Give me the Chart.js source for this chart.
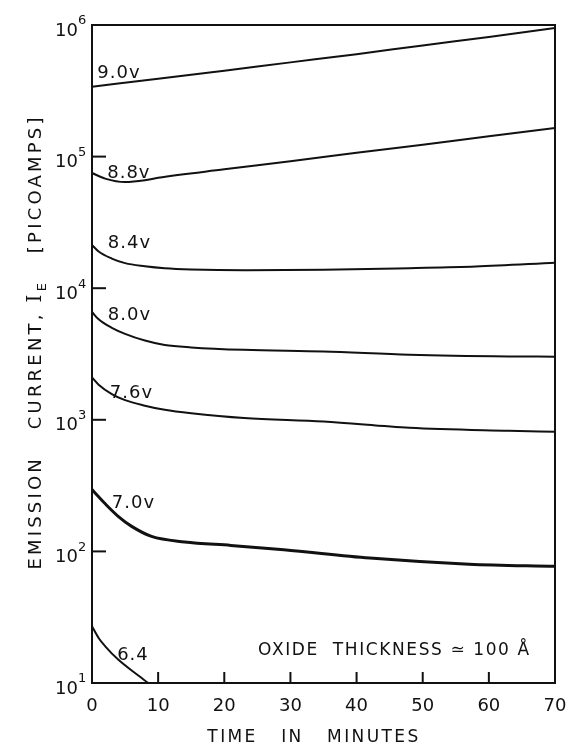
<!DOCTYPE html>
<html>
<head>
<meta charset="utf-8">
<script src="https://cdn.jsdelivr.net/npm/chart.js@4.4.1/dist/chart.umd.min.js"></script>
<style>
  html, body { margin: 0; padding: 0; background: #fff; }
  #wrap { width: 573px; height: 744px; }
</style>
</head>
<body>
<div id="wrap"><canvas id="emission"></canvas></div>
<script>
// time in minutes and emission current (picoamps) for each applied voltage
var t90 = [0, 10, 20, 30, 40, 50, 60, 70];
var i90 = [3.4e5, 3.9e5, 4.5e5, 5.2e5, 6.0e5, 7.0e5, 8.1e5, 9.5e5];

var t88 = [0, 2, 5, 8, 10, 20, 30, 40, 50, 60, 70];
var i88 = [7.5e4, 6.8e4, 6.4e4, 6.6e4, 6.9e4, 8.0e4, 9.2e4, 1.07e5, 1.23e5, 1.43e5, 1.65e5];

var t84 = [0, 1, 3, 5, 8, 11, 15, 23, 35, 48, 58, 70];
var i84 = [2.13e4, 1.9e4, 1.68e4, 1.55e4, 1.47e4, 1.42e4, 1.39e4, 1.37e4, 1.38e4, 1.42e4, 1.46e4, 1.56e4];

var t80 = [0, 1, 3, 5, 8, 11, 15, 23, 35, 48, 63, 70];
var i80 = [6.6e3, 5.8e3, 5.0e3, 4.5e3, 4.0e3, 3.7e3, 3.55e3, 3.4e3, 3.3e3, 3.12e3, 3.03e3, 3.02e3];

var t76 = [0, 1, 3, 5, 8, 11, 15, 23, 35, 48, 63, 70];
var i76 = [2.1e3, 1.85e3, 1.57e3, 1.41e3, 1.28e3, 1.19e3, 1.12e3, 1.03e3, 970, 870, 825, 810];

var t70 = [0, 1, 2, 4, 6, 9, 14, 21, 29, 42, 57, 70];
var i70 = [295, 260, 230, 184, 155, 130, 118, 111, 103, 89, 80, 77];

var t64 = [0, 1, 2, 4, 6.5, 8.5];
var i64 = [27, 22, 19, 15, 11.9, 10];

var curveNames = ['9.0v', '8.8v', '8.4v', '8.0v', '7.6v', '7.0v', '6.4'];
var xTicks = [0, 10, 20, 30, 40, 50, 60, 70];
var yExponents = [1, 2, 3, 4, 5, 6];

function pairs(ts, vs) {
    return ts.map(function(t, k) {
        return { x: t, y: vs[k] };
    });
}

var series = [
    [t90, i90], [t88, i88], [t84, i84], [t80, i80], [t76, i76], [t70, i70], [t64, i64]
];

var datasets = series.map(function(s, k) {
    return {
        label: curveNames[k],
        data: pairs(s[0], s[1]),
        borderColor: '#111',
        borderWidth: k === 5 ? 3 : 2,
        pointRadius: 0,
        fill: false,
        cubicInterpolationMode: 'monotone'
    };
});

// where each curve name sits (left end of the baseline), in minutes and picoamps
var nameSpots = [
    { x: 0.8, y: 3.96e5 }, { x: 2.3, y: 6.9e4 }, { x: 2.4, y: 2.02e4 },
    { x: 2.4, y: 5.7e3 }, { x: 2.7, y: 1.47e3 }, { x: 3.0, y: 214 }, { x: 3.8, y: 15 }
];

var SANS = '"DejaVu Sans", sans-serif';

var decorations = {
    id: 'decorations',
    afterDraw: function(chart) {
        var ctx = chart.ctx;
        var a = chart.chartArea;
        var xs = chart.scales.x;
        var ys = chart.scales.y;
        ctx.save();
        ctx.strokeStyle = '#111';
        ctx.fillStyle = '#111';

        // frame on top and right
        ctx.lineWidth = 2;
        ctx.beginPath();
        ctx.moveTo(a.left, a.top);
        ctx.lineTo(a.right, a.top);
        ctx.lineTo(a.right, a.bottom);
        ctx.stroke();

        // inside tick marks
        yExponents.forEach(function(e) {
            if (e === 1 || e === 6) return;
            var py = ys.getPixelForValue(Math.pow(10, e));
            ctx.beginPath();
            ctx.moveTo(a.left, py);
            ctx.lineTo(a.left + 14, py);
            ctx.stroke();
        });
        xTicks.forEach(function(v) {
            if (v === 0 || v === 70) return;
            var px = xs.getPixelForValue(v);
            ctx.beginPath();
            ctx.moveTo(px, a.bottom);
            ctx.lineTo(px, a.bottom - 11);
            ctx.stroke();
        });

        // decade labels with exponents
        yExponents.forEach(function(e) {
            var py = ys.getPixelForValue(Math.pow(10, e));
            ctx.textBaseline = 'middle';
            ctx.textAlign = 'right';
            ctx.font = '18px ' + SANS;
            ctx.fillText('10', a.left - 14, py + 6);
            ctx.textAlign = 'left';
            ctx.font = '13px ' + SANS;
            ctx.fillText(String(e), a.left - 14, py - 4);
        });

        // curve names
        ctx.textAlign = 'left';
        ctx.textBaseline = 'alphabetic';
        ctx.font = '18px ' + SANS;
        ctx.letterSpacing = '1px';
        nameSpots.forEach(function(p, k) {
            ctx.fillText(curveNames[k], xs.getPixelForValue(p.x), ys.getPixelForValue(p.y));
        });

        // oxide note
        ctx.font = '17px ' + SANS;
        ctx.letterSpacing = '1.6px';
        ctx.fillText('OXIDE  THICKNESS \u2243 100 \u00C5', 258, 655);

        // x axis title
        ctx.textAlign = 'center';
        ctx.font = '17px ' + SANS;
        ctx.letterSpacing = '2.4px';
        ctx.fillText('TIME   IN   MINUTES', 314, 742);

        // y axis title, rotated
        ctx.translate(41, 342);
        ctx.rotate(-Math.PI / 2);
        ctx.textAlign = 'left';
        var partA = 'EMISSION   CURRENT, ';
        var partB = '   [PICOAMPS]';
        ctx.font = '18px ' + SANS;
        ctx.letterSpacing = '3.2px';
        var wA = ctx.measureText(partA).width;
        var wB = ctx.measureText(partB).width;
        ctx.font = '20px "DejaVu Serif", serif';
        var wI = ctx.measureText('I').width;
        ctx.font = '13px ' + SANS;
        var wE = ctx.measureText('E').width;
        var x0 = -(wA + wI + wE + wB) / 2;
        ctx.font = '18px ' + SANS;
        ctx.fillText(partA, x0, 0);
        ctx.font = '20px "DejaVu Serif", serif';
        ctx.fillText('I', x0 + wA, 0);
        ctx.font = '13px ' + SANS;
        ctx.fillText('E', x0 + wA + wI, 5);
        ctx.font = '18px ' + SANS;
        ctx.fillText(partB, x0 + wA + wI + wE, 0);
        ctx.restore();
    }
};

var emissionChart = new Chart(document.getElementById('emission').getContext('2d'), {
    type: 'line',
    data: { datasets: datasets },
    options: {
        responsive: true,
        maintainAspectRatio: false,
        animation: false,
        layout: { padding: { top: 25, right: 18, left: 0, bottom: 0 } },
        plugins: {
            legend: { display: false },
            tooltip: { enabled: false }
        },
        scales: {
            x: {
                type: 'linear',
                min: 0,
                max: 70,
                afterBuildTicks: function(scale) {
                    scale.ticks = xTicks.map(function(v) { return { value: v }; });
                },
                afterFit: function(scale) { scale.height = 61; },
                ticks: {
                    color: '#111',
                    font: { family: SANS, size: 18 },
                    padding: 5,
                    maxRotation: 0
                },
                grid: { display: false },
                border: { display: true, color: '#111', width: 2 }
            },
            y: {
                type: 'logarithmic',
                min: 10,
                max: 1e6,
                afterFit: function(scale) { scale.width = 92; },
                ticks: { display: false },
                grid: { display: false },
                border: { display: true, color: '#111', width: 2 }
            }
        }
    },
    plugins: [decorations]
});
</script>
</body>
</html>
